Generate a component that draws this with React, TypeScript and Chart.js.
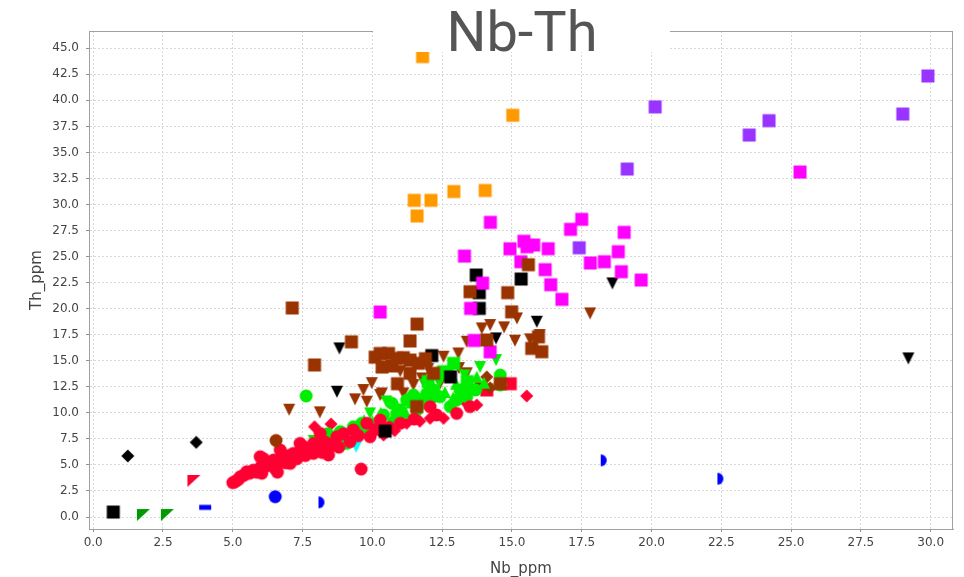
import React, { useEffect, useRef } from "react";
import { Chart, registerables } from "chart.js";

Chart.register(...registerables);

type P = [number, number];

// Nb_ppm, Th_ppm pairs per group
const orangeSquares: P[] = [[11.8, 44.2], [15.03, 38.57], [11.5, 30.4], [12.1, 30.4], [11.6, 28.9], [12.92, 31.25], [14.04, 31.35]];
const purpleSquares: P[] = [[20.13, 39.37], [24.21, 38.05], [23.5, 36.67], [29.9, 42.34], [29.0, 38.69], [19.13, 33.41], [17.41, 25.85]];
const magentaSquares: P[] = [[10.28, 19.68], [13.3, 25.05], [14.23, 28.29], [17.5, 28.58], [17.1, 27.62], [19.02, 27.33], [14.93, 25.75], [15.43, 26.47], [15.78, 26.11], [15.54, 25.95], [16.3, 25.76], [18.81, 25.47], [17.81, 24.39], [18.31, 24.51], [16.19, 23.75], [18.92, 23.55], [15.32, 24.51], [16.39, 22.3], [19.63, 22.75], [13.95, 22.45], [16.79, 20.9], [13.52, 20.03], [13.65, 16.95], [14.22, 15.86], [25.32, 33.12]];
const brownSquares: P[] = [[7.13, 20.07], [7.93, 14.6], [9.25, 16.82], [10.1, 15.35], [10.58, 15.7], [10.7, 14.5], [11.11, 15.3], [11.35, 15.07], [11.65, 14.76], [10.9, 12.8], [11.35, 13.8], [12.19, 13.8], [11.35, 16.9], [11.6, 18.52], [11.59, 10.6], [13.5, 21.63], [14.85, 21.54], [15.59, 24.22], [14.99, 19.7], [14.1, 17.0], [15.71, 16.19], [16.07, 15.87], [15.95, 17.3], [10.35, 14.4], [11.9, 15.2], [14.58, 12.8], [10.28, 15.7], [10.87, 15.23]];
const blackSquares: P[] = [[0.72, 0.48], [13.72, 23.23], [13.83, 21.54], [13.83, 20.03], [15.33, 22.85], [12.13, 15.5], [10.46, 8.25], [12.8, 13.45]];
const brownTriangles: P[] = [[7.02, 10.3], [8.12, 10.05], [9.98, 12.85], [9.38, 11.3], [9.8, 11.07], [10.28, 11.71], [9.68, 12.19], [10.34, 11.87], [11.11, 11.87], [11.47, 12.67], [11.77, 13.31], [12.43, 12.83], [12.55, 15.39], [13.08, 15.7], [13.38, 16.83], [13.38, 13.8], [13.92, 18.11], [14.22, 18.43], [14.72, 18.21], [15.11, 16.93], [15.65, 17.06], [15.99, 17.47], [15.18, 19.07], [17.8, 19.55], [13.1, 14.3], [12.0, 14.2], [11.0, 14.0]];
const brownCircles: P[] = [[6.55, 7.35]];
const brownDiamonds: P[] = [[14.1, 13.45], [14.22, 12.4], [13.8, 12.6]];
const redCircles: P[] = [[5.0, 3.3], [5.09, 3.4], [5.2, 3.6], [5.27, 3.87], [5.4, 4.0], [5.5, 4.35], [5.6, 4.2], [5.74, 4.5], [5.85, 4.3], [6.04, 4.2], [6.0, 4.8], [5.98, 5.79], [6.1, 5.6], [6.2, 4.9], [6.3, 5.2], [6.46, 5.47], [6.5, 4.7], [6.6, 5.0], [6.6, 4.3], [6.7, 5.5], [6.7, 6.43], [6.82, 5.79], [6.9, 5.2], [7.0, 5.9], [7.06, 5.15], [7.17, 6.11], [7.3, 5.6], [7.41, 7.07], [7.4, 6.3], [7.53, 6.75], [7.6, 5.9], [7.7, 6.5], [7.89, 6.11], [7.89, 7.07], [8.0, 6.8], [8.13, 8.03], [8.2, 6.2], [8.3, 7.2], [8.43, 5.95], [8.5, 6.8], [8.6, 7.07], [8.73, 7.71], [8.8, 6.7], [8.97, 8.0], [9.2, 7.23], [9.32, 8.35], [9.6, 4.6], [9.5, 7.8], [9.8, 9.0], [9.92, 7.71], [10.1, 8.4], [10.28, 9.31], [10.6, 8.6], [11.0, 9.0], [11.5, 9.4], [12.07, 10.59], [12.3, 9.8], [13.02, 9.95], [13.5, 10.6]];
const greenCircles: P[] = [[7.63, 11.62], [8.85, 8.2], [9.08, 7.07], [9.32, 8.67], [9.62, 9.0], [9.5, 8.2], [10.16, 8.67], [10.4, 9.8], [10.7, 10.92], [10.87, 9.95], [11.0, 10.3], [11.23, 11.23], [11.47, 11.71], [11.59, 10.27], [11.89, 10.92], [12.07, 12.0], [12.19, 11.55], [12.43, 11.55], [12.79, 10.6], [13.02, 11.23], [13.14, 12.19], [13.38, 11.55], [13.32, 12.35], [14.58, 13.63], [14.58, 12.67], [8.4, 8.0], [9.9, 8.0], [10.76, 9.15], [11.95, 11.87], [12.2, 12.2], [13.7, 12.2]];
const greenTriangles: P[] = [[8.0, 7.55], [8.3, 7.8], [9.7, 9.3], [10.3, 10.0], [10.9, 10.5], [11.4, 11.0], [11.8, 11.6], [12.2, 12.3], [12.6, 12.0], [13.0, 12.8], [13.74, 13.47], [13.5, 12.6], [11.2, 10.0], [10.0, 9.2], [12.9, 11.5], [14.0, 12.9]];
const greenSquares: P[] = [[12.55, 13.95], [12.91, 14.75], [12.67, 13.8], [12.0, 13.0], [11.5, 11.3], [13.4, 13.0]];
const greenDownTriangles: P[] = [[6.55, 7.0], [9.92, 9.95], [13.86, 14.4], [14.43, 15.07], [7.9, 7.3], [10.5, 11.1], [11.9, 12.7], [12.4, 12.9], [13.3, 13.6]];
const greenHalfCircles: P[] = [[5.96, 5.15], [6.82, 5.95]];
const redDiamonds: P[] = [[7.93, 8.67], [8.52, 8.93], [10.4, 7.87], [10.8, 8.3], [11.23, 9.0], [12.07, 9.48], [12.55, 9.48], [13.38, 10.9], [13.74, 10.75], [15.53, 11.62], [11.7, 9.2]];
const redSquares: P[] = [[14.94, 12.8], [14.1, 12.2]];
const redCorners: P[] = [[3.59, 3.46]];
const blackTriangles: P[] = [[8.82, 16.19], [8.73, 12.03], [18.6, 22.43], [29.2, 15.23], [15.89, 18.75], [14.43, 17.15]];
const blackDiamonds: P[] = [[1.24, 5.86], [3.69, 7.17]];
const cyanTriangles: P[] = [[9.42, 6.75]];
const blueCircles: P[] = [[6.52, 1.95]];
const blueBars: P[] = [[4.01, 0.93]];
const blueHalfCircles: P[] = [[8.07, 1.41], [18.18, 5.44], [22.36, 3.68]];
const greenCorners: P[] = [[1.78, 0.19], [2.64, 0.19]];

const xTicksStep = 2.5;
const yTicksStep = 2.5;

function makeShape(kind: string, color: string): HTMLCanvasElement {
  const c = document.createElement("canvas");
  c.width = 16;
  c.height = 16;
  const g = c.getContext("2d")!;
  g.fillStyle = color;
  g.beginPath();
  switch (kind) {
    case "square": g.rect(1.5, 1.5, 13, 13); break;
    case "circle": g.arc(8, 8, 6.5, 0, Math.PI * 2); break;
    case "down": g.moveTo(2, 2); g.lineTo(14, 2); g.lineTo(8, 14); g.closePath(); break;
    case "up": g.moveTo(8, 2); g.lineTo(14, 14); g.lineTo(2, 14); g.closePath(); break;
    case "diamond": g.moveTo(8, 1.5); g.lineTo(14.5, 8); g.lineTo(8, 14.5); g.lineTo(1.5, 8); g.closePath(); break;
    case "corner": g.moveTo(2, 2); g.lineTo(15, 2); g.lineTo(2, 14); g.closePath(); break;
    case "half": g.moveTo(8, 2); g.arc(8, 8, 6, -Math.PI / 2, Math.PI / 2); g.closePath(); break;
    case "bar": g.rect(2, 5.5, 12, 5); break;
  }
  g.fill();
  return c;
}

export default function App() {
  const ref = useRef<HTMLCanvasElement>(null);
  useEffect(() => {
    document.body.style.margin = "0";
    const groups: [P[], string, string][] = [
      [brownSquares, "square", "#993300"],
      [magentaSquares, "square", "#ff00ff"],
      [blackSquares, "square", "#000000"],
      [orangeSquares, "square", "#ff9900"],
      [purpleSquares, "square", "#9933ff"],
      [brownCircles, "circle", "#993300"],
      [redCircles, "circle", "#ff0033"],
      [greenCircles, "circle", "#00ee00"],
      [greenSquares, "square", "#00ee00"],
      [greenTriangles, "up", "#00ee00"],
      [greenDownTriangles, "down", "#00ee00"],
      [greenHalfCircles, "half", "#00ee00"],
      [brownTriangles, "down", "#993300"],
      [brownDiamonds, "diamond", "#993300"],
      [redDiamonds, "diamond", "#ff0033"],
      [redSquares, "square", "#ff0033"],
      [redCorners, "corner", "#ff0033"],
      [blackTriangles, "down", "#000000"],
      [blackDiamonds, "diamond", "#000000"],
      [cyanTriangles, "down", "#00ffff"],
      [blueCircles, "circle", "#0000ff"],
      [blueBars, "bar", "#0000ff"],
      [blueHalfCircles, "half", "#0000ff"],
      [greenCorners, "corner", "#009900"],
    ];
    const datasets = groups.map(([pts, kind, color]) => ({
      data: pts.map(([x, y]) => ({ x, y })),
      pointStyle: makeShape(kind, color) as any,
      pointRadius: 6,
      backgroundColor: color,
      borderColor: color,
      showLine: false,
    }));
    const deco = {
      id: "deco",
      beforeDraw(chart: any) {
        const ctx = chart.ctx;
        ctx.save();
        ctx.fillStyle = "#ffffff";
        ctx.fillRect(0, 0, chart.width, chart.height);
        ctx.restore();
      },
      afterDraw(chart: any) {
        const ctx = chart.ctx;
        const a = chart.chartArea;
        ctx.save();
        ctx.strokeStyle = "#a0a0a0";
        ctx.lineWidth = 1;
        ctx.strokeRect(a.left + 0.5, a.top + 0.5, a.right - a.left - 1, a.bottom - a.top);
        // axis titles
        ctx.fillStyle = "#444444";
        ctx.font = "15px 'DejaVu Sans'";
        ctx.textAlign = "center";
        ctx.textBaseline = "alphabetic";
        ctx.fillText("Nb_ppm", (a.left + a.right) / 2, 573);
        ctx.save();
        ctx.translate(40.5, (a.top + a.bottom) / 2);
        ctx.rotate(-Math.PI / 2);
        ctx.fillText("Th_ppm", 0, 0);
        ctx.restore();
        // title
        ctx.fillStyle = "#ffffff";
        ctx.fillRect(373, 0, 297, 52);
        ctx.fillStyle = "#555555";
        ctx.font = "56px Roboto";
        ctx.textAlign = "center";
        ctx.fillText("Nb-Th", 522, 51);
        ctx.restore();
      },
    };
    const tickFont = { family: "'DejaVu Sans'", size: 12 };
    const chart = new Chart(ref.current!, {
      type: "scatter",
      data: { datasets: datasets as any },
      options: {
        animation: false,
        responsive: false,
        events: [],
        layout: { padding: { left: 0, right: 11, top: 31, bottom: 0 } },
        plugins: { legend: { display: false }, tooltip: { enabled: false } },
        scales: {
          x: {
            type: "linear",
            min: -0.15,
            max: 30.8,
            afterFit: (s: any) => { s.height = 48; },
            ticks: {
              stepSize: xTicksStep,
              includeBounds: false,
              autoSkip: false,
              maxRotation: 0,
              padding: 4,
              color: "#444444",
              font: tickFont,
              callback: (v: any) => Number(v).toFixed(1),
            },
            grid: { color: "#d8d8d8", tickLength: 3, tickColor: "#909090", drawTicks: true },
            border: { display: true, color: "#a0a0a0", dash: [2, 2] },
          },
          y: {
            type: "linear",
            min: -1.15,
            max: 46.66,
            afterFit: (s: any) => { s.width = 89; },
            ticks: {
              stepSize: yTicksStep,
              includeBounds: false,
              autoSkip: false,
              padding: 7,
              color: "#444444",
              font: tickFont,
              callback: (v: any) => Number(v).toFixed(1),
            },
            grid: { color: "#d8d8d8", tickLength: 3, tickColor: "#909090", drawTicks: true },
            border: { display: true, color: "#a0a0a0", dash: [2, 2] },
          },
        },
      },
      plugins: [deco],
    } as any);
    return () => chart.destroy();
  }, []);
  return (
    <div style={{ position: "absolute", left: 0, top: 0 }}>
      <canvas ref={ref} width={964} height={577} style={{ display: "block", width: 964, height: 577 }} />
    </div>
  );
}
